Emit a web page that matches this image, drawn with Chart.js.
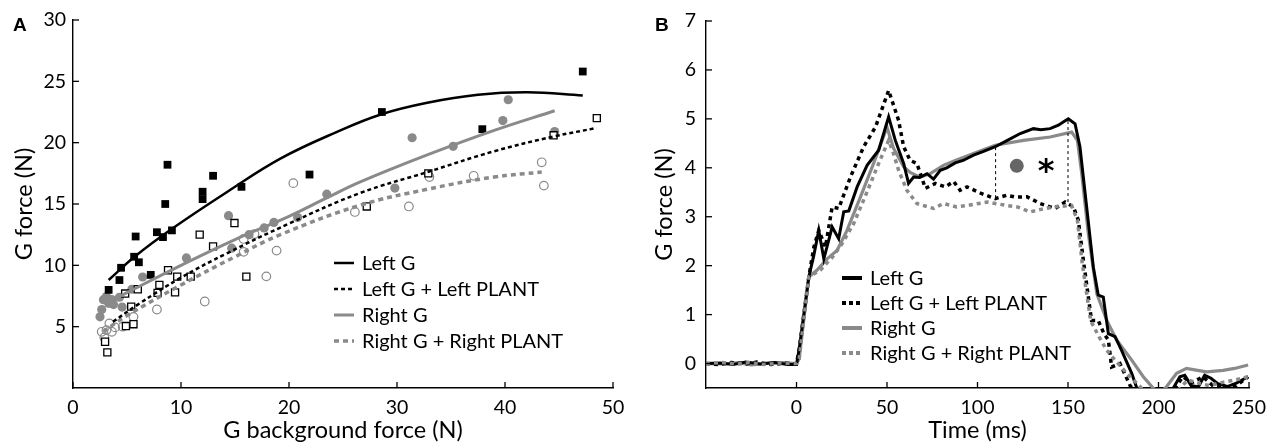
<!DOCTYPE html>
<html>
<head>
<meta charset="utf-8">
<script src="https://cdn.jsdelivr.net/npm/chart.js@4.4.1/dist/chart.umd.min.js"></script>
<style>
html,body{margin:0;padding:0;background:#fff;}
#wrap{position:relative;width:1267px;height:446px;overflow:hidden;}
canvas{position:absolute;top:0;}
</style>
</head>
<body>
<div id="wrap">
<canvas id="cA" width="640" height="446" style="left:0;width:640px;height:446px"></canvas>
<canvas id="cB" width="627" height="446" style="left:640px;width:627px;height:446px"></canvas>
</div>
<script>
// ---------- Panel A data ----------
const seriesLabels = ['Left G', 'Left G + Left PLANT', 'Right G', 'Right G + Right PLANT'];
const aXTicks = [0, 10, 20, 30, 40, 50];
const aYTicks = [5, 10, 15, 20, 25, 30];
const leftG_pts = [[3.3,8.0],[4.3,8.8],[4.45,9.8],[5.66,10.7],[5.8,12.35],[6.1,10.25],[7.2,9.22],[7.77,12.7],[8.33,12.3],[8.54,15.0],[8.75,18.2],[9.16,12.85],[12.0,15.4],[12.0,16.0],[12.97,17.3],[15.6,16.4],[21.9,17.4],[28.6,22.5],[37.9,21.1],[47.2,25.8]];
const leftGPlant_pts = [[2.97,3.77],[3.18,2.9],[4.9,5.05],[5.6,5.2],[5.39,6.63],[4.83,7.7],[6.0,8.05],[7.83,7.75],[8.0,8.4],[8.8,9.6],[9.45,7.8],[9.65,9.08],[10.9,9.08],[11.73,12.5],[12.97,11.55],[14.95,13.45],[16.05,9.08],[27.2,14.8],[32.9,17.5],[44.5,20.6],[48.5,22.0]];
const rightG_pts = [[2.5,5.8],[2.66,6.4],[2.82,7.2],[3.1,7.45],[3.3,6.9],[3.6,7.2],[3.75,6.8],[4.3,7.4],[4.55,6.6],[5.45,8.05],[6.45,9.05],[10.5,10.6],[14.4,14.05],[14.7,11.4],[16.3,12.5],[17.7,13.05],[18.6,13.5],[20.8,13.9],[23.5,15.8],[29.8,16.3],[31.4,20.4],[35.2,19.7],[39.8,21.8],[40.3,23.5],[44.6,20.9]];
const rightGPlant_pts = [[2.66,4.58],[2.9,4.12],[3.1,4.72],[3.37,5.27],[3.6,4.58],[3.9,4.94],[4.6,5.0],[5.6,5.8],[7.77,6.4],[12.2,7.05],[15.8,11.1],[15.8,12.15],[16.8,12.55],[17.9,9.1],[18.85,11.2],[20.4,16.7],[26.1,14.35],[31.1,14.8],[33.0,17.2],[37.1,17.3],[43.4,18.4],[43.6,16.5]];
// fitted curves
const leftG_fit = [[3.3,8.8],[5.7,10.7],[9.2,13.0],[14.3,16.0],[19.2,18.7],[24.5,20.9],[28.5,22.3],[32.8,23.25],[37.5,23.9],[42.1,24.1],[47.2,23.85]];
const leftGPlant_fit = [[3.7,5.4],[6,6.8],[10,9.0],[14.3,11.0],[20,13.4],[26.6,15.9],[32.8,17.6],[39,19.3],[44.5,20.5],[48.5,21.2]];
const rightG_fit = [[3.5,7.1],[5.5,8.0],[10,10.0],[15,12.1],[20,14.0],[23.5,15.5],[26.6,16.8],[32.8,19.0],[39,21.0],[44.6,22.6]];
const rightGPlant_fit = [[2.8,4.6],[5,5.9],[10,8.4],[15,10.7],[19.2,12.5],[26.6,14.9],[32.8,16.2],[39,17.2],[43.4,17.6]];

// ---------- Panel B data ----------
const bXTicks = [0, 50, 100, 150, 200, 250];
const bYTicks = [0, 1, 2, 3, 4, 5, 6, 7];
const leftG_time = [[-50,0],[-42,0.01],[-35,-0.02],[-28,0.03],[-20,-0.01],[-12,0.02],[-5,-0.02],[0,-0.02],[1.5,0.3],[6.8,1.77],[9.5,2.2],[12.3,2.72],[15.1,2.14],[19.7,2.79],[23.3,2.55],[26.1,3.1],[28.9,3.12],[33.5,3.61],[39,4.05],[45.4,4.36],[50.9,5.04],[54.6,4.56],[59.2,4.09],[61.9,3.68],[64.7,3.81],[68,3.8],[72.1,3.88],[75.7,3.77],[79.4,3.95],[83,4.0],[87.7,4.1],[92,4.15],[97.8,4.26],[103,4.33],[109.8,4.43],[116,4.55],[123.6,4.7],[130.9,4.8],[135,4.78],[140.1,4.8],[144.7,4.87],[148,4.95],[150.2,5.0],[153.9,4.9],[156.6,4.43],[160.3,3.2],[164,1.97],[166.7,1.4],[169.5,1.36],[172.3,0.61],[176,0.55],[179.6,0.27],[185.2,-0.2],[188,-0.5],[195,-0.8],[205,-0.7],[209,-0.45],[211.8,-0.27],[214.5,-0.24],[218,-0.45],[222,-0.48],[225.5,-0.24],[229,-0.3],[232.8,-0.41],[238,-0.47],[243,-0.4],[249.5,-0.27]];
const leftGPlant_time = [[-50,0],[-43,-0.02],[-36,0.02],[-28,-0.01],[-22,0.03],[-14,-0.02],[-6,0.01],[0,-0.01],[1.5,0.3],[6.8,1.77],[9.6,2.38],[12.3,2.72],[16,2.38],[19.7,3.2],[23.3,3.17],[29.8,3.81],[37.1,4.43],[43.6,4.83],[50.9,5.58],[56.4,4.97],[59.2,4.43],[62.8,4.15],[66.5,4.09],[71.2,3.58],[76.7,3.68],[82.2,3.61],[86.8,3.72],[90.4,3.54],[94.2,3.61],[102.4,3.47],[109.8,3.37],[116.2,3.44],[121,3.4],[127.3,3.41],[134.6,3.27],[142.9,3.17],[148.4,3.3],[153,3.2],[155.7,2.93],[158.5,2.11],[163,0.88],[166.7,0.88],[170,0.6],[172.3,0.48],[174.1,-0.07],[178.7,0.0],[184.3,-0.45],[190,-0.7],[205,-0.7],[210,-0.45],[213.6,-0.27],[218,-0.4],[224.6,-0.27],[230,-0.45],[236,-0.5],[243,-0.45],[249.5,-0.27]];
const rightG_time = [[-50,0],[-40,-0.01],[-32,0.02],[-25,-0.03],[-15,0.01],[-8,0.02],[0,0],[1.5,0.1],[6.8,1.77],[11.4,1.91],[16.9,2.14],[22.4,2.31],[27.9,2.72],[35.3,3.4],[42.6,4.09],[50,4.83],[53.6,4.4],[59.2,4.02],[63,3.9],[68.4,3.81],[73.9,3.88],[81.2,4.05],[87.7,4.15],[97.8,4.29],[109.8,4.46],[125.4,4.56],[140.1,4.63],[152,4.73],[155.2,4.56],[157.6,3.88],[161.2,2.66],[165.9,1.43],[171.4,0.88],[176.9,0.48],[185.2,0.07],[191.6,-0.27],[197,-0.5],[201,-0.6],[204.5,-0.47],[210,-0.2],[215.5,-0.1],[220,-0.13],[226.5,-0.17],[235.7,-0.14],[242,-0.1],[249.5,-0.03]];
const rightGPlant_time = [[-50,0],[-41,0.02],[-33,-0.01],[-26,0.02],[-18,-0.02],[-9,0.01],[0,0],[1.5,0.1],[6.8,1.77],[13.2,1.91],[19.7,2.17],[25.2,2.45],[31.6,2.86],[39,3.51],[45.4,4.09],[50.9,4.56],[53.6,4.29],[56.4,3.95],[61,3.54],[66.5,3.27],[71,3.22],[75.7,3.17],[81.2,3.27],[88.5,3.2],[94.2,3.23],[105.3,3.3],[116.2,3.23],[122,3.2],[129.1,3.1],[135,3.15],[141.9,3.2],[152,3.23],[155.2,2.93],[157.9,2.04],[162.5,0.88],[167.1,0.55],[171.4,0.27],[176,0.07],[182.5,-0.2],[189.8,-0.47],[195,-0.7],[208,-0.7],[213,-0.45],[216.4,-0.34],[222,-0.4],[228,-0.45],[236,-0.38],[243,-0.33],[249.5,-0.27]];
const markerTimes = [110, 150];
const markerLow = [3.38, 3.3];
const markerHigh = [4.44, 5.0];
const dotPoint = [121.7, 4.04];
const starPoint = [137.9, 4.02];

const FONT = 'Lato, "Open Sans", "DejaVu Sans", sans-serif';
const BLACK = '#000';
const GRAY = '#8a8a8a';
const toXY = arr => arr.map(p => ({x: p[0], y: p[1]}));

function inwardTicks(len) {
  return {
    id: 'inwardTicks',
    afterDatasetsDraw(chart) {
      const ctx = chart.ctx, a = chart.chartArea;
      ctx.save();
      ctx.strokeStyle = '#000'; ctx.lineWidth = 1.3;
      const xs = chart.scales.x, ys = chart.scales.y;
      xs.ticks.forEach(t => {
        const px = xs.getPixelForValue(t.value);
        ctx.beginPath(); ctx.moveTo(px, a.bottom); ctx.lineTo(px, a.bottom - len); ctx.stroke();
      });
      ys.ticks.forEach(t => {
        const py = ys.getPixelForValue(t.value);
        ctx.beginPath(); ctx.moveTo(a.left, py); ctx.lineTo(a.left + len, py); ctx.stroke();
      });
      ctx.restore();
    }
  };
}
function customLegend(cfg) {
  return {
    id: 'customLegend',
    afterDraw(chart) {
      const ctx = chart.ctx;
      ctx.save();
      ctx.font = cfg.fontSize + 'px ' + FONT;
      ctx.textBaseline = 'middle';
      cfg.items.forEach((it, i) => {
        const y = cfg.y + i * cfg.step;
        ctx.strokeStyle = it.color; ctx.lineWidth = it.width;
        ctx.setLineDash(it.dash || []);
        ctx.beginPath(); ctx.moveTo(cfg.x, y); ctx.lineTo(cfg.x + cfg.len, y); ctx.stroke();
        ctx.setLineDash([]);
        ctx.fillStyle = '#000';
        ctx.fillText(it.label, cfg.x + cfg.len + cfg.gap, y + 1);
      });
      ctx.restore();
    }
  };
}
function panelLetter(letter, x, y) {
  return {
    id: 'panelLetter',
    afterDraw(chart) {
      const ctx = chart.ctx;
      ctx.save();
      ctx.font = 'bold 19px "Liberation Sans", Arial, sans-serif';
      ctx.fillStyle = '#000'; ctx.textBaseline = 'alphabetic';
      ctx.fillText(letter, x, y);
      ctx.restore();
    }
  };
}

const tickFont = {family: FONT, size: 19.5};
const titleFont = {family: FONT, size: 23.5};
const noPad = s => { s.paddingLeft = 0; s.paddingRight = 0; };

// ---------- Chart A ----------
new Chart(document.getElementById('cA'), {
  type: 'scatter',
  data: {
    datasets: [
      {label: seriesLabels[0] + ' fit', data: toXY(leftG_fit), showLine: true, borderColor: BLACK, borderWidth: 2.5, pointRadius: 0, tension: 0.4},
      {label: seriesLabels[1] + ' fit', data: toXY(leftGPlant_fit), showLine: true, borderColor: BLACK, borderWidth: 2.5, borderDash: [4, 3], pointRadius: 0, tension: 0.4},
      {label: seriesLabels[2] + ' fit', data: toXY(rightG_fit), showLine: true, borderColor: GRAY, borderWidth: 3, pointRadius: 0, tension: 0.4},
      {label: seriesLabels[3] + ' fit', data: toXY(rightGPlant_fit), showLine: true, borderColor: GRAY, borderWidth: 3.5, borderDash: [5, 4], pointRadius: 0, tension: 0.4},
      {label: seriesLabels[0], data: toXY(leftG_pts), pointStyle: 'rect', pointRadius: 5.5, backgroundColor: BLACK, borderColor: BLACK, borderWidth: 0},
      {label: seriesLabels[1], data: toXY(leftGPlant_pts), pointStyle: 'rect', pointRadius: 5, backgroundColor: '#fff', borderColor: BLACK, borderWidth: 1.3},
      {label: seriesLabels[2], data: toXY(rightG_pts), pointStyle: 'circle', pointRadius: 4.6, backgroundColor: GRAY, borderColor: GRAY, borderWidth: 0},
      {label: seriesLabels[3], data: toXY(rightGPlant_pts), pointStyle: 'circle', pointRadius: 4.3, backgroundColor: 'rgba(255,255,255,0)', borderColor: GRAY, borderWidth: 1.2}
    ]
  },
  options: {
    responsive: false, animation: false, devicePixelRatio: 1,
    layout: {padding: {left: 0, right: 27, top: 20, bottom: 0}},
    plugins: {legend: {display: false}, tooltip: {enabled: false}},
    scales: {
      x: {
        type: 'linear', min: 0, max: 50,
        afterBuildTicks: s => { s.ticks = aXTicks.map(v => ({value: v})); },
        afterFit: s => { s.height = 58; noPad(s); },
        grid: {display: false, drawTicks: false},
        border: {display: true, color: '#000', width: 1.4},
        ticks: {font: tickFont, color: '#000', padding: 8, maxRotation: 0},
        title: {display: true, text: 'G background force (N)', font: titleFont, color: '#000', padding: {top: 0, bottom: 1}}
      },
      y: {
        type: 'linear', min: 0, max: 30,
        afterBuildTicks: s => { s.ticks = aYTicks.map(v => ({value: v})); },
        afterFit: s => { s.width = 73; s.paddingTop = 0; s.paddingBottom = 0; },
        grid: {display: false, drawTicks: false},
        border: {display: true, color: '#000', width: 1.4},
        ticks: {font: tickFont, color: '#000', padding: 7},
        title: {display: true, text: 'G force (N)', font: titleFont, color: '#000', padding: {top: 10, bottom: 0}}
      }
    }
  },
  plugins: [
    inwardTicks(6),
    customLegend({x: 334, y: 263, step: 26, len: 20, gap: 8, fontSize: 20, items: [
      {label: seriesLabels[0], color: BLACK, width: 2.5},
      {label: seriesLabels[1], color: BLACK, width: 2.5, dash: [4, 3]},
      {label: seriesLabels[2], color: GRAY, width: 3},
      {label: seriesLabels[3], color: GRAY, width: 3.5, dash: [5, 4]}
    ]}),
    panelLetter('A', 13, 31)
  ]
});

// ---------- Chart B ----------
const annotB = {
  id: 'annotB',
  afterDatasetsDraw(chart) {
    const ctx = chart.ctx, xs = chart.scales.x, ys = chart.scales.y;
    ctx.save();
    ctx.strokeStyle = '#000'; ctx.lineWidth = 1; ctx.setLineDash([3, 3]);
    markerTimes.forEach((t, i) => {
      const px = xs.getPixelForValue(t);
      ctx.beginPath(); ctx.moveTo(px, ys.getPixelForValue(markerLow[i])); ctx.lineTo(px, ys.getPixelForValue(markerHigh[i])); ctx.stroke();
    });
    ctx.setLineDash([]);
    ctx.fillStyle = '#666';
    ctx.beginPath(); ctx.arc(xs.getPixelForValue(dotPoint[0]), ys.getPixelForValue(dotPoint[1]), 7, 0, Math.PI * 2); ctx.fill();
    ctx.fillStyle = '#000';
    ctx.font = 'bold 32px "DejaVu Sans", sans-serif';
    ctx.textAlign = 'center'; ctx.textBaseline = 'middle';
    ctx.fillText('*', xs.getPixelForValue(starPoint[0]), ys.getPixelForValue(starPoint[1]) + 6);
    ctx.restore();
  }
};

new Chart(document.getElementById('cB'), {
  type: 'scatter',
  data: {
    datasets: [
      {label: seriesLabels[3], data: toXY(rightGPlant_time), showLine: true, borderColor: GRAY, borderWidth: 3.5, borderDash: [4, 4], pointRadius: 0},
      {label: seriesLabels[1], data: toXY(leftGPlant_time), showLine: true, borderColor: BLACK, borderWidth: 3.5, borderDash: [4, 4], pointRadius: 0},
      {label: seriesLabels[0], data: toXY(leftG_time), showLine: true, borderColor: BLACK, borderWidth: 3, pointRadius: 0},
      {label: seriesLabels[2], data: toXY(rightG_time), showLine: true, borderColor: GRAY, borderWidth: 3.2, pointRadius: 0}
    ]
  },
  options: {
    responsive: false, animation: false, devicePixelRatio: 1,
    layout: {padding: {left: 0, right: 18, top: 21, bottom: 0}},
    plugins: {legend: {display: false}, tooltip: {enabled: false}},
    scales: {
      x: {
        type: 'linear', min: -50, max: 250,
        afterBuildTicks: s => { s.ticks = bXTicks.map(v => ({value: v})); },
        afterFit: s => { s.height = 58; noPad(s); },
        grid: {display: false, drawTicks: false},
        border: {display: true, color: '#000', width: 1.4},
        ticks: {font: tickFont, color: '#000', padding: 8, maxRotation: 0},
        title: {display: true, text: 'Time (ms)', font: titleFont, color: '#000', padding: {top: 0, bottom: 1}}
      },
      y: {
        type: 'linear', min: -0.5, max: 7,
        afterBuildTicks: s => { s.ticks = bYTicks.map(v => ({value: v})); },
        afterFit: s => { s.width = 66; s.paddingTop = 0; s.paddingBottom = 0; },
        grid: {display: false, drawTicks: false},
        border: {display: true, color: '#000', width: 1.4},
        ticks: {font: tickFont, color: '#000', padding: 10},
        title: {display: true, text: 'G force (N)', font: titleFont, color: '#000', padding: {top: 10, bottom: 0}}
      }
    }
  },
  plugins: [
    inwardTicks(6),
    annotB,
    customLegend({x: 202, y: 278, step: 25, len: 20, gap: 8, fontSize: 20, items: [
      {label: seriesLabels[0], color: BLACK, width: 4},
      {label: seriesLabels[1], color: BLACK, width: 4, dash: [4, 3]},
      {label: seriesLabels[2], color: GRAY, width: 4},
      {label: seriesLabels[3], color: GRAY, width: 4, dash: [4, 3]}
    ]}),
    panelLetter('B', 15, 31)
  ]
});
</script>
</body>
</html>
